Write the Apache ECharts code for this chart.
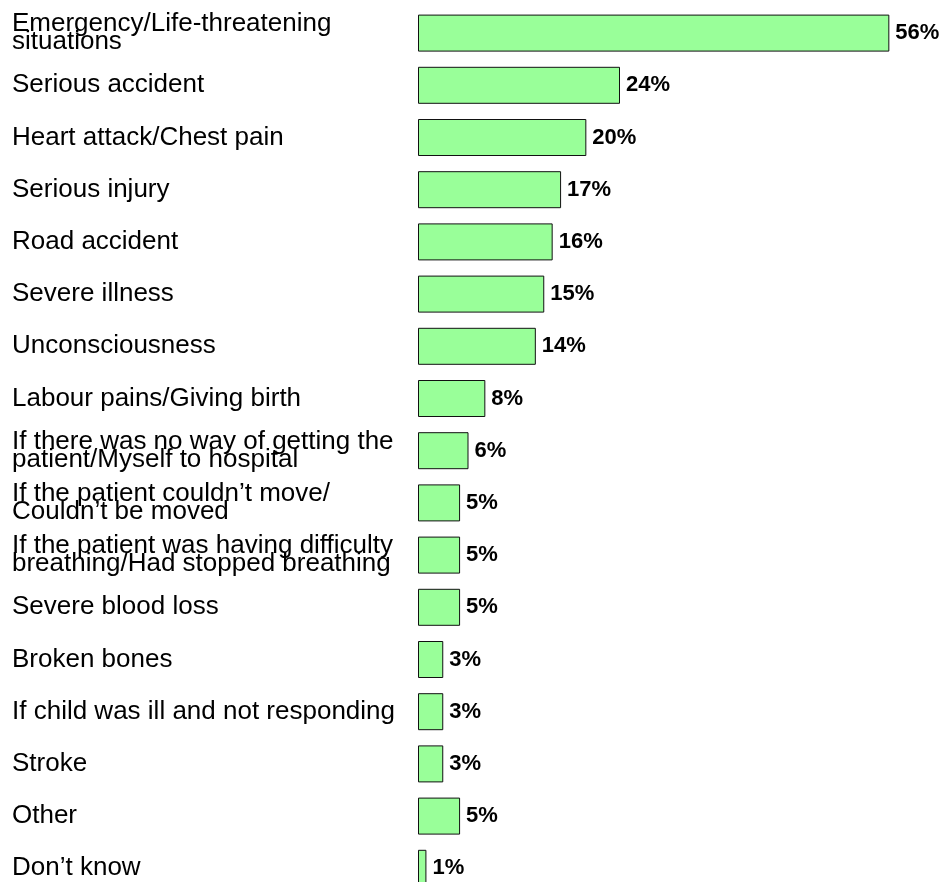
<!DOCTYPE html>
<html>
<head>
<meta charset="utf-8">
<script src="https://cdn.jsdelivr.net/npm/echarts@6/dist/echarts.min.js"></script>
<style>html,body{margin:0;padding:0;background:#fff;}#c{width:943px;height:882px;}</style>
</head>
<body>
<div id="c"></div>
<script>
const categories = [
  "Emergency/Life-threatening\nsituations",
  "Serious accident",
  "Heart attack/Chest pain",
  "Serious injury",
  "Road accident",
  "Severe illness",
  "Unconsciousness",
  "Labour pains/Giving birth",
  "If there was no way of getting the\npatient/Myself to hospital",
  "If the patient couldn\u2019t move/\nCouldn\u2019t be moved",
  "If the patient was having difficulty\nbreathing/Had stopped breathing",
  "Severe blood loss",
  "Broken bones",
  "If child was ill and not responding",
  "Stroke",
  "Other",
  "Don\u2019t know"
];
const values = [56, 24, 20, 17, 16, 15, 14, 8, 6, 5, 5, 5, 3, 3, 3, 5, 1];

const chart = echarts.init(document.getElementById('c'), null, {renderer: 'canvas'});
chart.setOption({
  animation: false,
  backgroundColor: '#ffffff',
  grid: {left: 418, width: 505, top: 7, height: 887.4, containLabel: false, outerBoundsMode: 'none'},
  xAxis: {type: 'value', min: 0, max: 60, show: false},
  yAxis: {
    type: 'category',
    data: categories,
    inverse: true,
    axisLine: {show: false},
    axisTick: {show: false},
    splitLine: {show: false},
    axisLabel: {
      align: 'left',
      margin: 406,
      fontFamily: 'Liberation Sans, Arial, sans-serif',
      fontSize: 26,
      lineHeight: 18,
      color: '#000'
    }
  },
  series: [{
    type: 'bar',
    data: values,
    barWidth: 37,
    itemStyle: {color: '#99FF99', borderColor: '#111', borderWidth: 1},
    label: {
      show: true,
      position: 'right',
      distance: 6,
      formatter: '{c}%',
      fontFamily: 'Liberation Sans, Arial, sans-serif',
      fontWeight: 'bold',
      fontSize: 22,
      color: '#000'
    }
  }]
});
</script>
</body>
</html>
